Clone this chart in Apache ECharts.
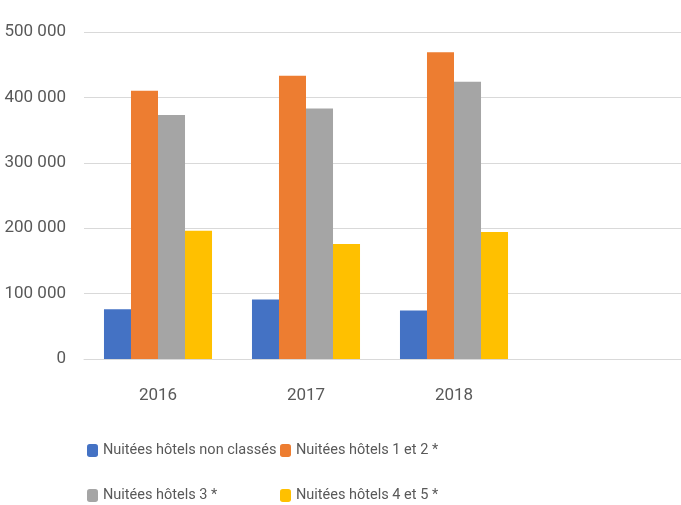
<!DOCTYPE html>
<html lang="fr">
<head>
    <meta charset="UTF-8">
    <title>Nuitées hôtels</title>
    <script src="https://cdn.jsdelivr.net/npm/echarts@6/dist/echarts.min.js"></script>
    <style>
        html, body { margin: 0; padding: 0; background: #fff; }
        #paint { width: 681px; height: 505px; }
    </style>
</head>
<body>
<div id="paint"></div>
<script type="text/javascript">
    // years on the x axis
    var years = ['2016', '2017', '2018'];
    // series names (legend)
    var seriesNames = ['Nuitées hôtels non classés', 'Nuitées hôtels 1 et 2 *', 'Nuitées hôtels 3 *', 'Nuitées hôtels 4 et 5 *'];
    // values
    var nonClasses = [76000, 91000, 74000];
    var hotels12 = [410000, 433000, 469000];
    var hotels3 = [373000, 383000, 424000];
    var hotels45 = [196000, 176000, 194000];
    var colors = ['#4472C4', '#ED7D31', '#A5A5A5', '#FFC000'];

    var font = 'Roboto, "Liberation Sans", sans-serif';
    var textColor = '#595959';

    function fmt(v) {
        return String(v).replace(/\B(?=(\d{3})+(?!\d))/g, ' ');
    }

    var allValues = [nonClasses, hotels12, hotels3, hotels45];
    var series = [];
    for (var i = 0; i < seriesNames.length; i++) {
        series.push({
            name: seriesNames[i],
            type: 'bar',
            data: allValues[i],
            barGap: 0,
            barCategoryGap: '27%',
            itemStyle: { color: colors[i] }
        });
    }

    // one legend per item so the two columns line up like the original
    var legendPos = [[87, 443], [280, 443], [87, 488], [280, 488]];
    var legends = seriesNames.map(function (n, i) {
        return {
            data: [n],
            left: legendPos[i][0],
            top: legendPos[i][1],
            padding: 0,
            itemWidth: 11,
            itemHeight: 13,
            itemGap: 4,
            selectedMode: false,
            textStyle: { fontFamily: font, fontSize: 14.5, color: textColor }
        };
    });

    var myChart = echarts.init(document.getElementById('paint'));
    var option = {
        animation: false,
        color: colors,
        legend: legends,
        // the plot runs past the right edge, as in the original crop
        grid: { left: 84, top: 32, bottom: 146, width: 740, outerBoundsMode: 'none', containLabel: false },
        xAxis: {
            type: 'category',
            data: years.concat(['', '']),
            axisTick: { show: false },
            axisLine: { show: true, lineStyle: { color: '#d9d9d9', width: 1 } },
            axisLabel: { margin: 28, fontFamily: font, fontSize: 17, color: textColor }
        },
        yAxis: {
            type: 'value',
            min: 0,
            max: 500000,
            interval: 100000,
            axisLine: { show: false },
            axisTick: { show: false },
            splitLine: { lineStyle: { color: '#d9d9d9', width: 1 } },
            axisLabel: {
                margin: 18,
                fontFamily: font,
                fontSize: 17,
                color: textColor,
                formatter: fmt
            }
        },
        series: series
    };
    myChart.setOption(option);
</script>
</body>
</html>
